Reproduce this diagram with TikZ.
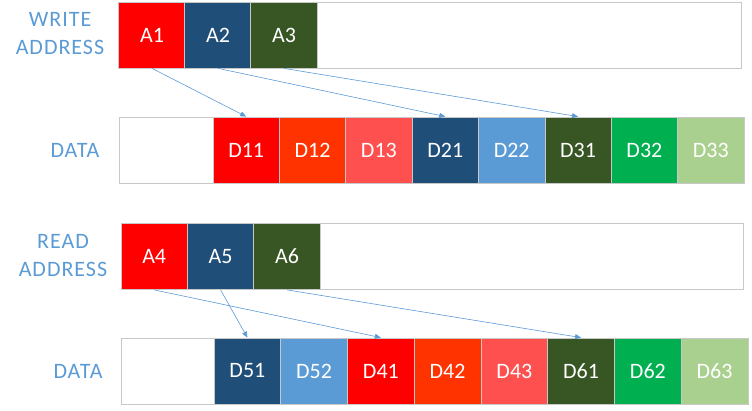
\documentclass[tikz,border=0pt]{standalone}
\usepackage{fontspec}
\setmainfont{Carlito}
\newfontfamily\labelfont[LetterSpace=4.5]{Carlito}
\usetikzlibrary{arrows.meta,positioning}
\definecolor{Red}{HTML}{FF0000}
\definecolor{Orange}{HTML}{FF3300}
\definecolor{Rose}{HTML}{FF5050}
\definecolor{Navy}{HTML}{1F4E79}
\definecolor{Sky}{HTML}{5B9BD5}
\definecolor{Forest}{HTML}{375623}
\definecolor{Green}{HTML}{00B050}
\definecolor{Lime}{HTML}{A9D08E}
\definecolor{Frame}{HTML}{C8C8C8}

\begin{document}
\begin{tikzpicture}[x=1pt,y=1pt,
    bar/.style={draw=Frame,line width=0.8pt,fill=white,inner sep=0pt,
      minimum height=66pt,anchor=west},
    cell/.style={draw=Frame,line width=0.8pt,minimum width=66.4pt,
      minimum height=66pt,inner sep=0pt,text=white,
      font=\fontsize{22}{26}\selectfont},
    lbl/.style={text=Sky,align=center,font=\labelfont\fontsize{22}{28}\selectfont},
    link/.style={draw=Sky,line width=0.6pt,-{Triangle[length=6pt,width=5pt]}}
  ]
    \useasboundingbox (0,0) rectangle (752,411);

    % write side
    \node[lbl] (wlabel) at (60,377) {WRITE\\ADDRESS};
    \node[bar,minimum width=622pt] (wbar) at (119,376) {};
    \node[cell,fill=Red] (a1) at (152,376) {A1};
    \node[cell,fill=Navy] (a2) at (218,376) {A2};
    \node[cell,fill=Forest] (a3) at (284,376) {A3};

    \node[lbl] (dlabel1) at (75,261) {DATA};
    \node[bar,minimum width=625pt] (dbar1) at (119,261) {};
    \node[cell,fill=Red] (d11) at (246.2,261) {D11};
    \node[cell,fill=Orange] (d12) at (312.6,261) {D12};
    \node[cell,fill=Rose] (d13) at (378.9,261) {D13};
    \node[cell,fill=Navy] (d21) at (445.3,261) {D21};
    \node[cell,fill=Sky] (d22) at (511.7,261) {D22};
    \node[cell,fill=Forest] (d31) at (578.1,261) {D31};
    \node[cell,fill=Green] (d32) at (644.4,261) {D32};
    \node[cell,fill=Lime] (d33) at (710.8,261) {D33};

    % read side
    \node[lbl] (rlabel) at (63,155) {READ\\ADDRESS};
    \node[bar,minimum width=622pt] (rbar) at (121,154.5) {};
    \node[cell,fill=Red] (a4) at (154.2,154.5) {A4};
    \node[cell,fill=Navy] (a5) at (220.6,154.5) {A5};
    \node[cell,fill=Forest] (a6) at (287,154.5) {A6};

    \node[lbl] (dlabel2) at (78,40) {DATA};
    \node[bar,minimum width=627pt] (dbar2) at (121,40) {};
    \node[cell,fill=Navy,minimum width=66.8pt] (d51) at (247.4,40) {D51};
    \node[cell,fill=Sky,minimum width=66.8pt] (d52) at (314.1,40) {D52};
    \node[cell,fill=Red,minimum width=66.8pt] (d41) at (380.9,40) {D41};
    \node[cell,fill=Orange,minimum width=66.8pt] (d42) at (447.6,40) {D42};
    \node[cell,fill=Rose,minimum width=66.8pt] (d43) at (514.4,40) {D43};
    \node[cell,fill=Forest,minimum width=66.8pt] (d61) at (581.1,40) {D61};
    \node[cell,fill=Green,minimum width=66.8pt] (d62) at (647.9,40) {D62};
    \node[cell,fill=Lime,minimum width=66.8pt] (d63) at (714.6,40) {D63};

    \draw[link] (a1.south) -- (d11.north);
    \draw[link] (a2.south) -- (d21.north);
    \draw[link] (a3.south) -- (d31.north);
    \draw[link] (a4.south) -- (d41.north);
    \draw[link] (a5.south) -- (d51.north);
    \draw[link] (a6.south) -- (d61.north);
  \end{tikzpicture}
\end{document}
